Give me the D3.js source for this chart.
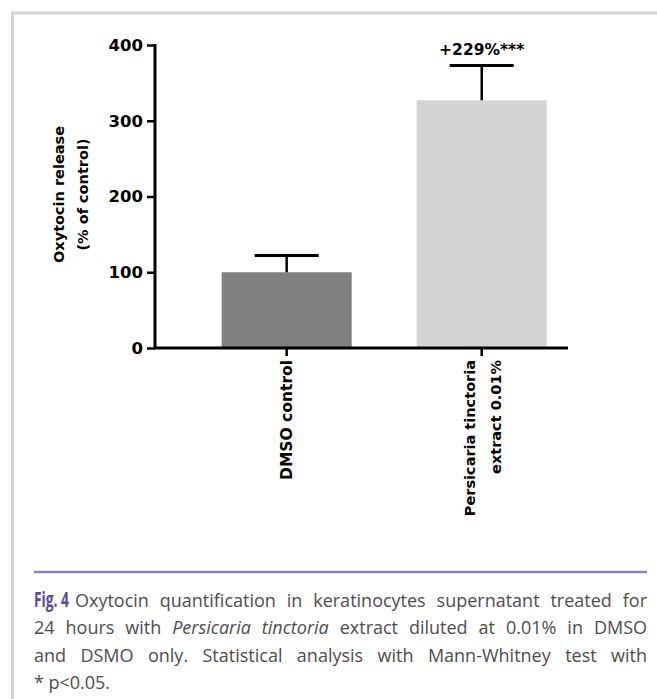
<!DOCTYPE html>
<html>
<head>
<meta charset="utf-8">
<script src="https://cdn.jsdelivr.net/npm/d3@7"></script>
<style>
  body { margin: 0; background: #fff; }
  svg { display: block; }
</style>
</head>
<body>
<svg id="chart" width="657" height="699"></svg>
<script>
// data
const categories = ["DMSO control", "Persicaria tinctoria|extract 0.01%"];
const means = [100, 327];
const sem = [22, 46];
const labels = ["", "+229%***"];
const yTicks = [0, 100, 200, 300, 400];
const yTitle = ["Oxytocin release", "(% of control)"];

const figLabel = "Fig. 4";
const captionLines = [
  [["Oxytocin quantification in keratinocytes supernatant treated for", false]],
  [["24 hours with", false], ["Persicaria tinctoria", true], ["extract diluted at 0.01% in DMSO", false]],
  [["and DSMO only. Statistical analysis with Mann-Whitney test with", false]],
  [["* p<0.05.", false]]
];

const svg = d3.select("#chart");
const chartFont = "'DejaVu Sans', sans-serif";

// frame of the figure box
svg.append("line").attr("x1", 11).attr("x2", 657).attr("y1", 13).attr("y2", 13)
  .attr("stroke", "#d5d5d5").attr("stroke-width", 3);
svg.append("line").attr("x1", 12.5).attr("x2", 12.5).attr("y1", 11.5).attr("y2", 699)
  .attr("stroke", "#d5d5d5").attr("stroke-width", 3);

const y = d3.scaleLinear().domain([0, 400]).range([348, 45]);
const x = d3.scaleBand().domain(categories)
  .range([188.5, 579.9]).paddingInner(1 / 3).paddingOuter(0.17);

const g = svg.append("g").attr("font-family", chartFont);

// bars
g.selectAll("rect.bar")
  .data(categories)
  .join("rect")
  .attr("class", "bar")
  .attr("x", d => x(d))
  .attr("width", x.bandwidth())
  .attr("y", (d, i) => y(means[i]))
  .attr("height", (d, i) => y(0) - y(means[i]))
  .attr("fill", (d, i) => i === 0 ? "#808080" : "#d3d3d3");

// error bars (upper only)
const err = g.append("g").attr("stroke", "#000");
categories.forEach((c, i) => {
  const cx = x(c) + x.bandwidth() / 2;
  err.append("line")
    .attr("x1", cx).attr("x2", cx)
    .attr("y1", y(means[i])).attr("y2", y(means[i] + sem[i]))
    .attr("stroke-width", 2.5);
  err.append("line")
    .attr("x1", cx - 32).attr("x2", cx + 32)
    .attr("y1", y(means[i] + sem[i])).attr("y2", y(means[i] + sem[i]))
    .attr("stroke-width", 3);
  if (labels[i]) {
    g.append("text")
      .attr("x", cx).attr("y", y(means[i] + sem[i]) - 10)
      .attr("text-anchor", "middle")
      .attr("font-size", 15.5).attr("font-weight", "bold")
      .text(labels[i]);
  }
});

// y axis
const yAxis = g.append("g")
  .attr("transform", "translate(155,0)")
  .call(d3.axisLeft(y).tickValues(yTicks).tickSize(8).tickPadding(4).tickSizeOuter(0));
yAxis.select(".domain").attr("stroke-width", 3).attr("d", "M0,44V348");
yAxis.selectAll(".tick line").attr("stroke-width", 2.5);
yAxis.selectAll(".tick text")
  .attr("font-family", chartFont).attr("font-size", 16.5).attr("font-weight", "bold").attr("fill", "#000");

// x axis
const xAxis = g.append("g")
  .attr("transform", "translate(0,348)")
  .call(d3.axisBottom(x).tickSize(8).tickSizeOuter(0).tickFormat(""));
xAxis.select(".domain").attr("stroke-width", 3).attr("d", "M153.5,0H568");
xAxis.selectAll(".tick line").attr("stroke-width", 2.5);

// rotated category labels
categories.forEach(c => {
  const parts = c.split("|");
  const cx = x(c) + x.bandwidth() / 2;
  const t = g.append("text")
    .attr("transform", `translate(${cx},360) rotate(-90)`)
    .attr("text-anchor", "end")
    .attr("font-size", parts.length === 1 ? 15.5 : 14.5).attr("font-weight", "bold");
  parts.forEach((p, k) => {
    const off = parts.length === 1 ? 5 : (k === 0 ? -7 : 19);
    t.append("tspan").attr("x", 0).attr("y", off).text(p);
  });
});

// y title
const yt = g.append("text")
  .attr("transform", `translate(0,${(y(0) + y(400)) / 2 - 2}) rotate(-90)`)
  .attr("text-anchor", "middle")
  .attr("font-size", 14.5).attr("font-weight", "bold");
yTitle.forEach((line, k) => {
  yt.append("tspan").attr("x", 0).attr("y", k === 0 ? 64 : 88).text(line);
});

// caption
svg.append("line").attr("x1", 34).attr("x2", 647).attr("y1", 572).attr("y2", 572)
  .attr("stroke", "#8d81c2").attr("stroke-width", 2.5);

const capFont = "'Open Sans', sans-serif";
const fig = svg.append("text")
  .attr("font-family", "'Liberation Sans Narrow', 'Open Sans', sans-serif")
  .attr("font-size", 21).attr("font-weight", "bold").attr("fill", "#5a4a9f")
  .text(figLabel);
// squeeze the label horizontally to the condensed width of the original
const figW = fig.node().getComputedTextLength();
fig.attr("transform", `translate(34,607) scale(${35 / figW},1)`);

const capLeft = 34, capRight = 647;
captionLines.forEach((segs, li) => {
  const baseY = 607 + li * 27.3;
  const startX = li === 0 ? 75 : capLeft;
  const words = [];
  segs.forEach(([s, it]) => s.split(" ").forEach(w => words.push({ w, it })));
  const nodes = words.map(o => svg.append("text")
    .attr("y", baseY)
    .attr("font-family", capFont).attr("font-size", 18)
    .attr("font-style", o.it ? "italic" : "normal")
    .attr("fill", "#4d4d4d")
    .text(o.w));
  const widths = nodes.map(n => n.node().getComputedTextLength());
  const total = d3.sum(widths);
  const justify = li < captionLines.length - 1;
  const gap = justify ? (capRight - startX - total) / (words.length - 1) : 4.5;
  let cx = startX;
  nodes.forEach((n, k) => {
    n.attr("x", cx);
    cx += widths[k] + gap;
  });
});
</script>
</body>
</html>
